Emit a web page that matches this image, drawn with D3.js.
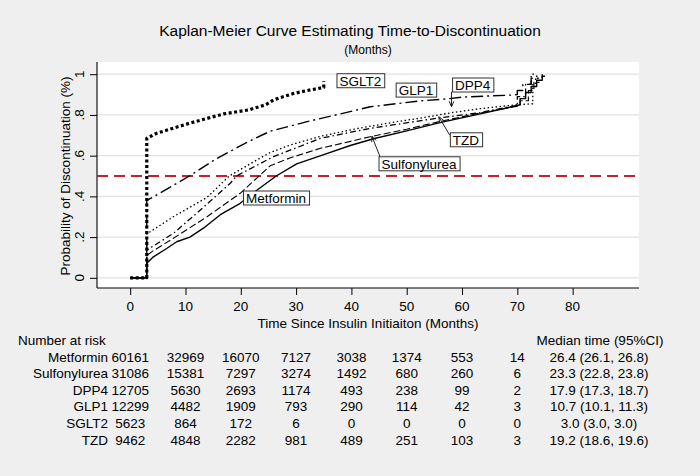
<!DOCTYPE html>
<html><head><meta charset="utf-8">
<script src="https://cdn.jsdelivr.net/npm/d3@7"></script>
<style>
html,body{margin:0;padding:0;background:#efefef;}
svg{display:block;font-family:"Liberation Sans",Arial,Helvetica,sans-serif;}
</style></head>
<body><svg id="c" width="700" height="476"></svg>
<script>
// ---------- data ----------
const titleText = "Kaplan-Meier Curve Estimating Time-to-Discontinuation";
const subtitleText = "(Months)";
const xTitle = "Time Since Insulin Initiaiton (Months)";
const yTitle = "Probability of Discontinuation (%)";
const xTicks = [0,10,20,30,40,50,60,70,80];
const yTicks = [0,0.2,0.4,0.6,0.8,1];
const yTickLabels = ["0",".2",".4",".6",".8","1"];
const refLine = 0.5;

const groups = ["Metformin","Sulfonylurea","DPP4","GLP1","SGLT2","TZD"];
const riskTimes = [0,10,20,30,40,50,60,70];
const riskMetformin    = [60161,32969,16070,7127,3038,1374,553,14];
const riskSulfonylurea = [31086,15381,7297,3274,1492,680,260,6];
const riskDPP4         = [12705,5630,2693,1174,493,238,99,2];
const riskGLP1         = [12299,4482,1909,793,290,114,42,3];
const riskSGLT2        = [5623,864,172,6,0,0,0,0];
const riskTZD          = [9462,4848,2282,981,489,251,103,3];
const medianText = ["26.4 (26.1, 26.8)","23.3 (22.8, 23.8)","17.9 (17.3, 18.7)","10.7 (10.1, 11.3)","3.0 (3.0, 3.0)","19.2 (18.6, 19.6)"];

// [month, probability]
const curveMetformin = [[0,0],[3,0],[3,0.072],[4.2,0.103],[6.6,0.144],[8.4,0.177],[10.8,0.2],[13.3,0.245],[16.3,0.31],[19.9,0.366],[22.9,0.43],[26.4,0.5],[30.1,0.56],[35,0.605],[39.8,0.65],[44,0.683],[50,0.722],[56,0.762],[63.3,0.805],[69.8,0.845],[70.5,0.85],[70.5,0.88],[71.5,0.88],[71.5,0.91],[72.5,0.91],[72.5,0.94],[73.5,0.94],[73.5,0.97],[74.5,0.97],[74.5,0.99],[75,0.99]];
const curveSulfonylurea = [[0,0],[3,0],[3,0.11],[4,0.13],[7.8,0.194],[13.9,0.3],[19.9,0.415],[23.3,0.5],[25.3,0.55],[29,0.59],[34.4,0.636],[43.4,0.693],[50,0.73],[56,0.768],[63,0.808],[69.5,0.84],[70.5,0.845],[70.5,0.87],[72,0.87],[72,0.92],[73,0.92],[73,0.96],[74,0.96]];
const curveDPP4 = [[0,0],[3,0],[3,0.22],[3.6,0.226],[7.8,0.3],[13.9,0.395],[17.9,0.5],[22.9,0.579],[25.3,0.615],[28.9,0.652],[34.4,0.695],[41,0.733],[48.2,0.767],[52.4,0.784],[57.9,0.81],[63,0.83],[69.9,0.85],[72.8,0.855],[72.8,0.95],[73.3,0.95],[73.3,0.99],[74,0.99]];
const curveGLP1 = [[0,0],[3,0],[3,0.38],[4.2,0.398],[10.7,0.5],[15.7,0.587],[21.1,0.665],[25.3,0.72],[32,0.767],[38,0.805],[43.4,0.84],[52.4,0.869],[57.3,0.879],[60.3,0.888],[69.3,0.898],[70,0.9],[70,0.92],[71,0.92],[71,0.95],[72.5,0.95],[72.5,0.98],[74.5,0.98],[74.5,1]];
const curveSGLT2 = [[0,0],[3,0],[3,0.685],[4.8,0.71],[10.8,0.76],[16.9,0.805],[21.5,0.825],[24.5,0.85],[26,0.875],[29.5,0.905],[32,0.92],[35,0.935],[35,0.965]];
const curveTZD = [[0,0],[3,0],[3,0.136],[7.8,0.218],[12.7,0.333],[18.1,0.464],[19.2,0.5],[25.9,0.595],[34.4,0.685],[43.4,0.734],[55.5,0.784],[63,0.81],[68.5,0.84],[70,0.845],[70,0.89],[71.5,0.89],[71.5,0.95],[72.5,0.95],[72.5,1],[73,1]];

// curve labels: [name, month of box left edge, probability of box centre]
const labelNames = ["SGLT2","GLP1","DPP4","TZD","Sulfonylurea","Metformin"];
const labelAt = [[37.3,0.968],[48.0,0.922],[58.2,0.947],[57.8,0.678],[44.9,0.56],[20.4,0.392]];
// arrows: [fromMonth, fromProb, toMonth, toProb]
const arrowDPP4 = [58.1,0.914,58.1,0.84];
const arrowTZD = [57.8,0.70,55.8,0.791];
const arrowSulf = [45.2,0.593,43.7,0.696];

// ---------- drawing ----------
const svg = d3.select("#c");
const W = 700, H = 476;
const P = {l:97, r:639, t:62, b:288};
const x = d3.scaleLinear().domain([-6,92]).range([P.l,P.r]);
const y = d3.scaleLinear().domain([-0.05,1.06]).range([P.b,P.t]);
const FS = 13.5;

svg.append("rect").attr("width",W).attr("height",H).attr("fill","#efefef");
svg.append("rect").attr("x",P.l).attr("y",P.t).attr("width",P.r-P.l).attr("height",P.b-P.t).attr("fill","#ffffff");

// grid
svg.append("g").selectAll("line").data(yTicks).join("line")
  .attr("x1",P.l).attr("x2",P.r).attr("y1",d=>y(d)).attr("y2",d=>y(d))
  .attr("stroke","#e2e2e2").attr("stroke-width",1.3);

// axes
const gy = svg.append("g").attr("transform",`translate(${P.l},0)`)
  .call(d3.axisLeft(y).tickValues(yTicks).tickSize(7).tickFormat(""));
const gx = svg.append("g").attr("transform",`translate(0,${P.b})`)
  .call(d3.axisBottom(x).tickValues(xTicks).tickSize(7).tickFormat(""));
[gx,gy].forEach(g=>{g.select(".domain").remove(); g.selectAll("line").attr("stroke","#000").attr("stroke-width",1);});
svg.append("line").attr("x1",P.l).attr("x2",P.l).attr("y1",P.t).attr("y2",P.b).attr("stroke","#000").attr("stroke-width",1.1);
svg.append("line").attr("x1",P.l).attr("x2",P.r).attr("y1",P.b).attr("y2",P.b).attr("stroke","#000").attr("stroke-width",1.1);

svg.append("g").selectAll("text").data(yTicks).join("text")
  .attr("transform",(d)=>`translate(84,${y(d)}) rotate(-90)`)
  .attr("text-anchor","middle").attr("font-size",FS).text((d,i)=>yTickLabels[i]);
svg.append("g").selectAll("text").data(xTicks).join("text")
  .attr("x",d=>x(d)).attr("y",311).attr("text-anchor","middle").attr("font-size",FS).text(d=>d);

// titles
svg.append("text").attr("x",350).attr("y",36).attr("text-anchor","middle").attr("font-size",15.5).text(titleText);
svg.append("text").attr("x",368).attr("y",54).attr("text-anchor","middle").attr("font-size",12).text(subtitleText);
svg.append("text").attr("x",(P.l+P.r)/2).attr("y",328).attr("text-anchor","middle").attr("font-size",FS).text(xTitle);
svg.append("text").attr("transform",`translate(70,${(y(-0.05)+y(1.06))/2+1}) rotate(-90)`)
  .attr("text-anchor","middle").attr("font-size",FS).text(yTitle);

// reference line
svg.append("line").attr("x1",P.l).attr("x2",P.r).attr("y1",y(refLine)).attr("y2",y(refLine))
  .attr("stroke","#c8202a").attr("stroke-width",1.8).attr("stroke-dasharray","11,6");

// curves
const line = d3.line().x(d=>x(d[0])).y(d=>y(d[1]));
const curves = [
  {d:curveTZD, dash:"6,3,1.5,3", w:1.3},
  {d:curveGLP1, dash:"12,4,2,4", w:1.4},
  {d:curveDPP4, dash:"1.5,2.5", w:1.3},
  {d:curveSulfonylurea, dash:"7,3", w:1.1},
  {d:curveMetformin, dash:null, w:1.4},
  {d:curveSGLT2, dash:"3,2.5", w:3.2}
];
curves.forEach(c=>{
  svg.append("path").attr("d",line(c.d)).attr("fill","none").attr("stroke","#000")
    .attr("stroke-width",c.w).attr("stroke-dasharray",c.dash).attr("stroke-linejoin","round");
});

// arrows
function arrow(a){
  const x1=x(a[0]),y1=y(a[1]),x2=x(a[2]),y2=y(a[3]);
  svg.append("line").attr("x1",x1).attr("y1",y1).attr("x2",x2).attr("y2",y2).attr("stroke","#222").attr("stroke-width",1);
  const ang=Math.atan2(y2-y1,x2-x1), L=6, s=0.4;
  const p1=[x2-L*Math.cos(ang-s),y2-L*Math.sin(ang-s)], p2=[x2-L*Math.cos(ang+s),y2-L*Math.sin(ang+s)];
  svg.append("path").attr("d",`M${p1}L${x2},${y2}L${p2}`).attr("fill","none").attr("stroke","#222").attr("stroke-width",1);
}
[arrowDPP4,arrowTZD,arrowSulf].forEach(arrow);

// labels
labelNames.forEach((n,i)=>{
  const lx=x(labelAt[i][0]), cy=y(labelAt[i][1]);
  const t=svg.append("text").attr("x",lx+3).attr("y",cy+5).attr("font-size",FS).text(n);
  const w=t.node().getComputedTextLength();
  svg.insert("rect",()=>t.node()).attr("x",lx+0.5).attr("y",cy-7).attr("width",w+6).attr("height",14)
    .attr("fill","#fff").attr("stroke","#333").attr("stroke-width",1);
});

// risk table
svg.append("text").attr("x",18).attr("y",345).attr("font-size",FS).text("Number at risk");
svg.append("text").attr("x",600).attr("y",345).attr("text-anchor","middle").attr("font-size",FS).text("Median time (95%CI)");
const riskRows = [riskMetformin,riskSulfonylurea,riskDPP4,riskGLP1,riskSGLT2,riskTZD];
const rowY = i => 361.5 + i*16.6;
groups.forEach((g,i)=>{
  svg.append("text").attr("x",108).attr("y",rowY(i)).attr("text-anchor","end").attr("font-size",FS).text(g);
  riskRows[i].forEach((v,j)=>{
    svg.append("text").attr("x",x(riskTimes[j])).attr("y",rowY(i)).attr("text-anchor","middle").attr("font-size",FS).text(v);
  });
  svg.append("text").attr("x",599).attr("y",rowY(i)).attr("text-anchor","middle").attr("font-size",FS).text(medianText[i]);
});
</script></body></html>
